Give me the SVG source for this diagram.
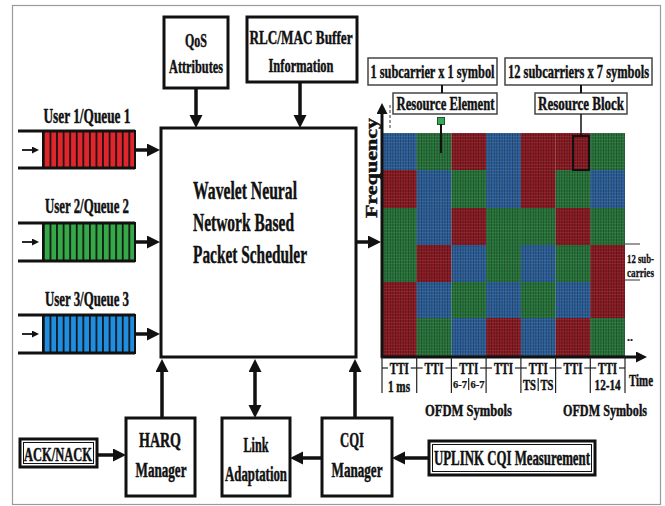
<svg xmlns="http://www.w3.org/2000/svg" width="665" height="506" viewBox="0 0 665 506">
<style>
text{font-family:"Liberation Serif","Times New Roman",serif;font-weight:bold;fill:#111;stroke:#111;stroke-width:0.45;}
.box{fill:#fff;stroke:#111;stroke-width:3;}
.lbl{fill:#fff;stroke:#444;stroke-width:1.5;}
.ar{stroke:#111;stroke-width:3.5;fill:none;marker-end:url(#ah);}
.ax{stroke:#111;stroke-width:3;fill:none;marker-end:url(#axh);}
.tk{stroke:#222;stroke-width:1.2;}
.qline{stroke:#111;stroke-width:3;}
.mid{text-anchor:middle;}
</style>
<defs>
<marker id="ah" markerUnits="userSpaceOnUse" markerWidth="14" markerHeight="14" refX="1" refY="6.5" orient="auto-start-reverse"><path d="M0,0 L13,6.5 L0,13 z" fill="#111"/></marker>
<marker id="axh" markerUnits="userSpaceOnUse" markerWidth="12" markerHeight="12" refX="1" refY="5.5" orient="auto"><path d="M0,0 L11,5.5 L0,11 z" fill="#111"/></marker>
<marker id="sh" markerUnits="userSpaceOnUse" markerWidth="8" markerHeight="8" refX="1" refY="3.5" orient="auto"><path d="M0,0 L7,3.5 L0,7 z" fill="#111"/></marker>
<pattern id="qs" patternUnits="userSpaceOnUse" x="43" y="0" width="6.57" height="10"><rect x="0" y="0" width="1.7" height="10" fill="#111"/></pattern>
<pattern id="gp" patternUnits="userSpaceOnUse" x="382" y="133" width="2.6" height="3.1"><rect x="0" y="0" width="0.9" height="3.1" fill="rgba(0,0,0,0.3)"/><rect x="0" y="0" width="2.6" height="0.6" fill="rgba(255,255,255,0.1)"/></pattern>
</defs>

<rect x="12.5" y="5.5" width="648" height="499" fill="#fff" stroke="#9a9a9a" stroke-width="1.2"/>

<g id="qos">
<rect class="box" x="164" y="17" width="64" height="71"/>
<text class="mid" x="196" y="47" font-size="19" textLength="22" lengthAdjust="spacingAndGlyphs">QoS</text>
<text class="mid" x="196" y="73" font-size="19" textLength="54" lengthAdjust="spacingAndGlyphs">Attributes</text>
</g>
<g id="rlc">
<rect class="box" x="247" y="17" width="110" height="65"/>
<text class="mid" x="301" y="44" font-size="19" textLength="103" lengthAdjust="spacingAndGlyphs">RLC/MAC Buffer</text>
<text class="mid" x="301" y="72" font-size="19" textLength="65" lengthAdjust="spacingAndGlyphs">Information</text>
</g>

<g id="queue1">
<text class="mid" x="87" y="123" font-size="20" textLength="87" lengthAdjust="spacingAndGlyphs">User 1/Queue 1</text>
<rect x="43" y="131" width="92" height="37" fill="#e0262c" stroke="#111" stroke-width="2"/>
<rect x="43" y="131" width="92" height="37" fill="url(#qs)"/>
<line class="qline" x1="18" y1="131" x2="135" y2="131"/>
<line class="qline" x1="18" y1="168" x2="135" y2="168"/>
<line x1="22" y1="150" x2="33" y2="150" stroke="#111" stroke-width="1.8" marker-end="url(#sh)"/>
</g>
<g id="queue2">
<text class="mid" x="87" y="213" font-size="20" textLength="84" lengthAdjust="spacingAndGlyphs">User 2/Queue 2</text>
<rect x="43" y="223" width="92" height="38" fill="#35a848" stroke="#111" stroke-width="2"/>
<rect x="43" y="223" width="92" height="38" fill="url(#qs)"/>
<line class="qline" x1="18" y1="223" x2="135" y2="223"/>
<line class="qline" x1="18" y1="261" x2="135" y2="261"/>
<line x1="22" y1="242" x2="33" y2="242" stroke="#111" stroke-width="1.8" marker-end="url(#sh)"/>
</g>
<g id="queue3">
<text class="mid" x="87" y="306" font-size="20" textLength="84" lengthAdjust="spacingAndGlyphs">User 3/Queue 3</text>
<rect x="43" y="315" width="92" height="38" fill="#1f8ee0" stroke="#111" stroke-width="2"/>
<rect x="43" y="315" width="92" height="38" fill="url(#qs)"/>
<line class="qline" x1="18" y1="315" x2="135" y2="315"/>
<line class="qline" x1="18" y1="353" x2="135" y2="353"/>
<line x1="22" y1="334" x2="33" y2="334" stroke="#111" stroke-width="1.8" marker-end="url(#sh)"/>
</g>

<g id="scheduler">
<rect class="box" x="161" y="128" width="195" height="229"/>
<text x="193" y="199" font-size="26" textLength="104" lengthAdjust="spacingAndGlyphs">Wavelet Neural</text>
<text x="193" y="231" font-size="26" textLength="101" lengthAdjust="spacingAndGlyphs">Network Based</text>
<text x="193" y="263" font-size="26" textLength="114" lengthAdjust="spacingAndGlyphs">Packet Scheduler</text>
</g>

<g id="resource-grid">
<rect x="382" y="133" width="34.8" height="37" fill="#2c5f99"/>
<rect x="416.7" y="133" width="34.8" height="37" fill="#27743a"/>
<rect x="451.4" y="133" width="34.8" height="37" fill="#891a22"/>
<rect x="486.1" y="133" width="34.8" height="37" fill="#2c5f99"/>
<rect x="520.9" y="133" width="34.8" height="37" fill="#891a22"/>
<rect x="555.6" y="133" width="34.8" height="37" fill="#891a22"/>
<rect x="590.3" y="133" width="34.7" height="37" fill="#27743a"/>

<rect x="382" y="170" width="34.8" height="38" fill="#891a22"/>
<rect x="416.7" y="170" width="34.8" height="38" fill="#2c5f99"/>
<rect x="451.4" y="170" width="34.8" height="38" fill="#27743a"/>
<rect x="486.1" y="170" width="34.8" height="38" fill="#2c5f99"/>
<rect x="520.9" y="170" width="34.8" height="38" fill="#891a22"/>
<rect x="555.6" y="170" width="34.8" height="38" fill="#27743a"/>
<rect x="590.3" y="170" width="34.7" height="38" fill="#2c5f99"/>

<rect x="382" y="208" width="34.8" height="37" fill="#27743a"/>
<rect x="416.7" y="208" width="34.8" height="37" fill="#2c5f99"/>
<rect x="451.4" y="208" width="34.8" height="37" fill="#891a22"/>
<rect x="486.1" y="208" width="34.8" height="37" fill="#27743a"/>
<rect x="520.9" y="208" width="34.8" height="37" fill="#27743a"/>
<rect x="555.6" y="208" width="34.8" height="37" fill="#891a22"/>
<rect x="590.3" y="208" width="34.7" height="37" fill="#27743a"/>

<rect x="382" y="245" width="34.8" height="37" fill="#27743a"/>
<rect x="416.7" y="245" width="34.8" height="37" fill="#891a22"/>
<rect x="451.4" y="245" width="34.8" height="37" fill="#2c5f99"/>
<rect x="486.1" y="245" width="34.8" height="37" fill="#27743a"/>
<rect x="520.9" y="245" width="34.8" height="37" fill="#2c5f99"/>
<rect x="555.6" y="245" width="34.8" height="37" fill="#27743a"/>
<rect x="590.3" y="245" width="34.7" height="37" fill="#891a22"/>

<rect x="382" y="282" width="34.8" height="36" fill="#891a22"/>
<rect x="416.7" y="282" width="34.8" height="36" fill="#2c5f99"/>
<rect x="451.4" y="282" width="34.8" height="36" fill="#27743a"/>
<rect x="486.1" y="282" width="34.8" height="36" fill="#2c5f99"/>
<rect x="520.9" y="282" width="34.8" height="36" fill="#27743a"/>
<rect x="555.6" y="282" width="34.8" height="36" fill="#2c5f99"/>
<rect x="590.3" y="282" width="34.7" height="36" fill="#891a22"/>

<rect x="382" y="318" width="34.8" height="39" fill="#891a22"/>
<rect x="416.7" y="318" width="34.8" height="39" fill="#27743a"/>
<rect x="451.4" y="318" width="34.8" height="39" fill="#2c5f99"/>
<rect x="486.1" y="318" width="34.8" height="39" fill="#891a22"/>
<rect x="520.9" y="318" width="34.8" height="39" fill="#2c5f99"/>
<rect x="555.6" y="318" width="34.8" height="39" fill="#891a22"/>
<rect x="590.3" y="318" width="34.7" height="39" fill="#27743a"/>

<rect x="382" y="133" width="243" height="224" fill="url(#gp)"/>
<rect x="573" y="136" width="16" height="34" fill="none" stroke="#111" stroke-width="2"/>
<rect x="437.5" y="117.5" width="7" height="7" fill="#3aa85a" stroke="#1a5a2a" stroke-width="1"/>
<line x1="441" y1="124" x2="441" y2="153" stroke="#111" stroke-width="2"/>
</g>

<g id="grid-labels">
<rect class="lbl" x="368" y="58" width="129" height="27"/>
<text class="mid" x="432.5" y="78" font-size="19" textLength="124" lengthAdjust="spacingAndGlyphs">1 subcarrier x 1 symbol</text>
<rect class="lbl" x="505" y="58" width="147" height="27"/>
<text class="mid" x="578.5" y="78" font-size="19" textLength="141" lengthAdjust="spacingAndGlyphs">12 subcarriers x 7 symbols</text>
<rect class="lbl" x="393" y="93" width="104" height="21"/>
<text class="mid" x="445.5" y="110" font-size="19" textLength="98" lengthAdjust="spacingAndGlyphs">Resource Element</text>
<rect class="lbl" x="535" y="93" width="92" height="21"/>
<text class="mid" x="581" y="110" font-size="19" textLength="86" lengthAdjust="spacingAndGlyphs">Resource Block</text>
<line x1="442" y1="85" x2="442" y2="93" stroke="#111" stroke-width="2"/>
<line x1="581" y1="85" x2="581" y2="93" stroke="#111" stroke-width="2"/>
<line x1="581" y1="114" x2="581" y2="136" stroke="#111" stroke-width="1.5"/>
<line x1="390" y1="105" x2="390" y2="130" stroke="#555" stroke-width="1.2" stroke-dasharray="3,2"/>
<line x1="625" y1="244" x2="640" y2="244" stroke="#555" stroke-width="1.2"/>
<text x="627" y="263" font-size="13" textLength="27" lengthAdjust="spacingAndGlyphs" style="stroke-width:0.3">12 sub-</text>
<text x="627" y="277" font-size="13" textLength="27" lengthAdjust="spacingAndGlyphs" style="stroke-width:0.3">carries</text>
<line x1="625" y1="280" x2="640" y2="280" stroke="#555" stroke-width="1.2"/>
<text x="627" y="341" font-size="12" style="stroke-width:0.2">..</text>
</g>

<g id="axes">
<line class="ax" x1="382" y1="358" x2="382" y2="113"/>
<text transform="translate(377,168) rotate(-90)" class="mid" font-size="17" textLength="100" lengthAdjust="spacingAndGlyphs">Frequency</text>
<line class="ax" x1="381" y1="357" x2="637" y2="357"/>
<text x="629" y="386" font-size="17" textLength="24" lengthAdjust="spacingAndGlyphs">Time</text>
<g class="tk">
<line x1="382" y1="357" x2="382" y2="393"/>
<line x1="416.7" y1="357" x2="416.7" y2="393"/>
<line x1="451.4" y1="357" x2="451.4" y2="393"/>
<line x1="486.1" y1="357" x2="486.1" y2="393"/>
<line x1="520.9" y1="357" x2="520.9" y2="393"/>
<line x1="555.6" y1="357" x2="555.6" y2="393"/>
<line x1="590.3" y1="357" x2="590.3" y2="393"/>
<line x1="625" y1="357" x2="625" y2="393"/>
<line x1="468.7" y1="378" x2="468.7" y2="390"/>
<line x1="538.2" y1="378" x2="538.2" y2="391"/>
<line x1="382" y1="368" x2="388" y2="368"/><line x1="410.7" y1="368" x2="416.7" y2="368"/>
<line x1="416.7" y1="368" x2="422.7" y2="368"/><line x1="445.4" y1="368" x2="451.4" y2="368"/>
<line x1="451.4" y1="368" x2="457.4" y2="368"/><line x1="480.1" y1="368" x2="486.1" y2="368"/>
<line x1="486.1" y1="368" x2="492.1" y2="368"/><line x1="514.9" y1="368" x2="520.9" y2="368"/>
<line x1="520.9" y1="368" x2="526.9" y2="368"/><line x1="549.6" y1="368" x2="555.6" y2="368"/>
<line x1="555.6" y1="368" x2="561.6" y2="368"/><line x1="584.3" y1="368" x2="590.3" y2="368"/>
<line x1="590.3" y1="368" x2="596.3" y2="368"/><line x1="619" y1="368" x2="625" y2="368"/>
</g>
<text class="mid" x="399.3" y="374" font-size="16" textLength="19" lengthAdjust="spacingAndGlyphs">TTI</text>
<text class="mid" x="434" y="374" font-size="16" textLength="19" lengthAdjust="spacingAndGlyphs">TTI</text>
<text class="mid" x="468.7" y="374" font-size="16" textLength="19" lengthAdjust="spacingAndGlyphs">TTI</text>
<text class="mid" x="503.5" y="374" font-size="16" textLength="19" lengthAdjust="spacingAndGlyphs">TTI</text>
<text class="mid" x="538.2" y="374" font-size="16" textLength="19" lengthAdjust="spacingAndGlyphs">TTI</text>
<text class="mid" x="573" y="374" font-size="16" textLength="19" lengthAdjust="spacingAndGlyphs">TTI</text>
<text class="mid" x="607.6" y="374" font-size="16" textLength="19" lengthAdjust="spacingAndGlyphs">TTI</text>
<text class="mid" x="399" y="392" font-size="16" textLength="22" lengthAdjust="spacingAndGlyphs">1 ms</text>
<text class="mid" x="460" y="388" font-size="11" textLength="14" lengthAdjust="spacingAndGlyphs" style="stroke-width:0.25">6-7</text>
<text class="mid" x="477.4" y="388" font-size="11" textLength="14" lengthAdjust="spacingAndGlyphs" style="stroke-width:0.25">6-7</text>
<text class="mid" x="529.5" y="390" font-size="15" textLength="13" lengthAdjust="spacingAndGlyphs">TS</text>
<text class="mid" x="547" y="390" font-size="15" textLength="13" lengthAdjust="spacingAndGlyphs">TS</text>
<text class="mid" x="607.6" y="390" font-size="15" textLength="26" lengthAdjust="spacingAndGlyphs">12-14</text>
<text class="mid" x="468.5" y="416" font-size="17" textLength="87" lengthAdjust="spacingAndGlyphs">OFDM Symbols</text>
<text class="mid" x="605" y="416" font-size="17" textLength="84" lengthAdjust="spacingAndGlyphs">OFDM Symbols</text>
</g>

<g id="acknack">
<rect class="box" x="20" y="439" width="77" height="28"/>
<rect x="23.5" y="442.5" width="70" height="21" fill="none" stroke="#111" stroke-width="1"/>
<text class="mid" x="58" y="461" font-size="19" textLength="68" lengthAdjust="spacingAndGlyphs">ACK/NACK</text>
</g>
<g id="harq">
<rect class="box" x="126" y="418" width="69" height="78"/>
<text class="mid" x="160" y="447" font-size="20" textLength="42" lengthAdjust="spacingAndGlyphs">HARQ</text>
<text class="mid" x="161" y="477" font-size="20" textLength="51" lengthAdjust="spacingAndGlyphs">Manager</text>
</g>
<g id="link">
<rect class="box" x="222" y="418" width="68" height="78"/>
<text class="mid" x="256" y="452" font-size="20" textLength="25" lengthAdjust="spacingAndGlyphs">Link</text>
<text class="mid" x="256" y="481" font-size="20" textLength="62" lengthAdjust="spacingAndGlyphs">Adaptation</text>
</g>
<g id="cqi">
<rect class="box" x="322" y="418" width="70" height="78"/>
<text class="mid" x="352" y="447" font-size="20" textLength="24" lengthAdjust="spacingAndGlyphs">CQI</text>
<text class="mid" x="357" y="477" font-size="20" textLength="51" lengthAdjust="spacingAndGlyphs">Manager</text>
</g>
<g id="uplink">
<rect class="box" x="429" y="441" width="166" height="34"/>
<rect x="432.5" y="444.5" width="159" height="27" fill="none" stroke="#111" stroke-width="1"/>
<text class="mid" x="512" y="465" font-size="20" textLength="156" lengthAdjust="spacingAndGlyphs">UPLINK CQI Measurement</text>
</g>

<g id="connectors">
<line class="ar" x1="196" y1="88" x2="196" y2="116"/>
<line class="ar" x1="300" y1="82" x2="300" y2="116"/>
<line class="ar" x1="135" y1="150" x2="148" y2="150"/>
<line class="ar" x1="135" y1="242" x2="148" y2="242"/>
<line class="ar" x1="135" y1="334" x2="148" y2="334"/>
<line class="ar" x1="357" y1="242" x2="369" y2="242"/>
<line class="ar" x1="162" y1="418" x2="162" y2="371"/>
<line class="ar" x1="255" y1="371" x2="255" y2="406" style="marker-start:url(#ah)"/>
<line class="ar" x1="355" y1="418" x2="355" y2="371"/>
<line class="ar" x1="97" y1="455" x2="114" y2="455"/>
<line class="ar" x1="322" y1="458" x2="302" y2="458"/>
<line class="ar" x1="429" y1="458" x2="404" y2="458"/>
</g>
</svg>
